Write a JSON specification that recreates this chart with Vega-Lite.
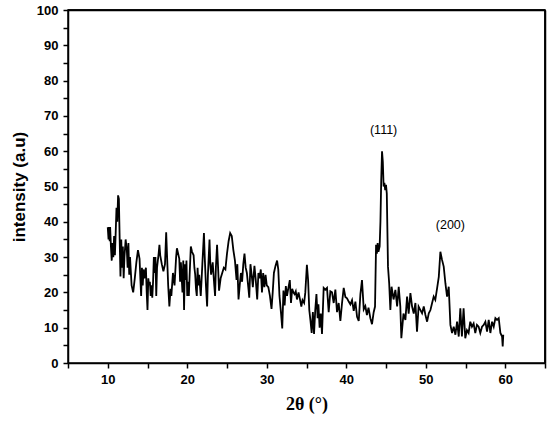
{
  "$schema": "https://vega.github.io/schema/vega-lite/v6.json",
  "width": 477,
  "height": 353,
  "autosize": {"type": "none"},
  "padding": {"left": 68, "top": 10, "right": 5, "bottom": 61},
  "background": "white",
  "config": {
    "view": {"stroke": "black", "strokeWidth": 1.5},
    "axis": {"domainColor": "black", "domainWidth": 1.5, "tickColor": "black", "tickWidth": 1.5, "grid": false,
      "labelFont": "Liberation Sans", "labelFontWeight": "bold", "labelFontSize": 13, "labelColor": "black",
      "labelOverlap": false, "titleColor": "black"}
  },
  "resolve": {"scale": {"x": "independent", "y": "independent"}, "axis": {"x": "independent", "y": "independent"}},
  "datasets": {
    "xrd": [
      {"theta":10.0,"intensity":38.5},{"theta":10.1,"intensity":35},{"theta":10.15,"intensity":38.5},{"theta":10.25,"intensity":34.5},
      {"theta":10.3,"intensity":38.5},{"theta":10.4,"intensity":33},{"theta":10.5,"intensity":29},{"theta":10.6,"intensity":34},
      {"theta":10.7,"intensity":30},{"theta":10.8,"intensity":36},{"theta":10.9,"intensity":30.5},{"theta":11.0,"intensity":37},
      {"theta":11.1,"intensity":44},{"theta":11.2,"intensity":40},{"theta":11.3,"intensity":47.5},{"theta":11.4,"intensity":46.5},
      {"theta":11.5,"intensity":35},{"theta":11.6,"intensity":24.5},{"theta":11.7,"intensity":35},{"theta":11.8,"intensity":27},
      {"theta":11.9,"intensity":33},{"theta":12.0,"intensity":24},{"theta":12.1,"intensity":30},{"theta":12.25,"intensity":35},
      {"theta":12.4,"intensity":32},{"theta":12.5,"intensity":27},{"theta":12.6,"intensity":34},{"theta":12.7,"intensity":25},
      {"theta":12.8,"intensity":30},{"theta":12.9,"intensity":26},{"theta":13.0,"intensity":22},{"theta":13.2,"intensity":20},
      {"theta":13.4,"intensity":24},{"theta":13.6,"intensity":28.5},{"theta":13.8,"intensity":32},{"theta":14.0,"intensity":29.5},
      {"theta":14.1,"intensity":24},{"theta":14.2,"intensity":19},{"theta":14.3,"intensity":27},{"theta":14.4,"intensity":22},
      {"theta":14.5,"intensity":26.5},{"theta":14.6,"intensity":24},{"theta":14.8,"intensity":27},{"theta":14.9,"intensity":20},
      {"theta":15.0,"intensity":15},{"theta":15.1,"intensity":24},{"theta":15.2,"intensity":22},{"theta":15.3,"intensity":23},
      {"theta":15.4,"intensity":19},{"theta":15.5,"intensity":22},{"theta":15.6,"intensity":18.5},{"theta":15.7,"intensity":23},
      {"theta":15.8,"intensity":30},{"theta":15.9,"intensity":25.5},{"theta":16.0,"intensity":30},{"theta":16.1,"intensity":19},
      {"theta":16.2,"intensity":27},{"theta":16.4,"intensity":31},{"theta":16.5,"intensity":33.5},{"theta":16.6,"intensity":30.5},
      {"theta":16.8,"intensity":28},{"theta":17.0,"intensity":26},{"theta":17.2,"intensity":28},{"theta":17.35,"intensity":37},
      {"theta":17.5,"intensity":28},{"theta":17.6,"intensity":22},{"theta":17.75,"intensity":16},{"theta":17.9,"intensity":21},
      {"theta":18.0,"intensity":19},{"theta":18.2,"intensity":25.5},{"theta":18.4,"intensity":22},{"theta":18.5,"intensity":26},
      {"theta":18.6,"intensity":30},{"theta":18.7,"intensity":32.5},{"theta":18.85,"intensity":31},{"theta":19.0,"intensity":29.5},
      {"theta":19.1,"intensity":23},{"theta":19.2,"intensity":28.5},{"theta":19.3,"intensity":24},{"theta":19.4,"intensity":20},
      {"theta":19.5,"intensity":29},{"theta":19.6,"intensity":15},{"theta":19.7,"intensity":28},{"theta":19.8,"intensity":23.5},
      {"theta":19.9,"intensity":29},{"theta":20.0,"intensity":19},{"theta":20.1,"intensity":23},{"theta":20.2,"intensity":19},
      {"theta":20.3,"intensity":25},{"theta":20.45,"intensity":33},{"theta":20.6,"intensity":31.5},{"theta":20.8,"intensity":30.5},
      {"theta":20.9,"intensity":27},{"theta":21.0,"intensity":25},{"theta":21.1,"intensity":21},{"theta":21.2,"intensity":19},
      {"theta":21.3,"intensity":27},{"theta":21.4,"intensity":22},{"theta":21.5,"intensity":25},{"theta":21.7,"intensity":19},
      {"theta":21.9,"intensity":28},{"theta":22.1,"intensity":36.8},{"theta":22.2,"intensity":30},{"theta":22.35,"intensity":22},
      {"theta":22.5,"intensity":16},{"theta":22.6,"intensity":25},{"theta":22.8,"intensity":35},{"theta":22.9,"intensity":28},
      {"theta":23.0,"intensity":25},{"theta":23.2,"intensity":28.5},{"theta":23.4,"intensity":22},{"theta":23.5,"intensity":19},
      {"theta":23.6,"intensity":27},{"theta":23.75,"intensity":33.5},{"theta":23.9,"intensity":26},{"theta":24.0,"intensity":20.5},
      {"theta":24.2,"intensity":24},{"theta":24.4,"intensity":25.5},{"theta":24.6,"intensity":27},{"theta":24.8,"intensity":26.5},
      {"theta":25.0,"intensity":31},{"theta":25.2,"intensity":34.5},{"theta":25.4,"intensity":36.8},{"theta":25.6,"intensity":36},
      {"theta":25.8,"intensity":32},{"theta":26.0,"intensity":29},{"theta":26.2,"intensity":23.5},{"theta":26.3,"intensity":28},
      {"theta":26.45,"intensity":18},{"theta":26.6,"intensity":22},{"theta":26.75,"intensity":25.5},{"theta":26.9,"intensity":23},
      {"theta":27.05,"intensity":28},{"theta":27.2,"intensity":31},{"theta":27.35,"intensity":27},{"theta":27.5,"intensity":25.5},
      {"theta":27.7,"intensity":21},{"theta":27.8,"intensity":18.5},{"theta":27.95,"intensity":28},{"theta":28.1,"intensity":25},
      {"theta":28.25,"intensity":21.5},{"theta":28.45,"intensity":27.5},{"theta":28.6,"intensity":24},{"theta":28.8,"intensity":18},
      {"theta":28.95,"intensity":25.5},{"theta":29.1,"intensity":24},{"theta":29.25,"intensity":26.5},{"theta":29.4,"intensity":20},
      {"theta":29.55,"intensity":25.5},{"theta":29.7,"intensity":21.5},{"theta":29.85,"intensity":25},{"theta":30.0,"intensity":22},
      {"theta":30.2,"intensity":21.5},{"theta":30.4,"intensity":19},{"theta":30.6,"intensity":15.3},{"theta":30.75,"intensity":20},
      {"theta":30.9,"intensity":25.5},{"theta":31.1,"intensity":27.5},{"theta":31.3,"intensity":29},{"theta":31.45,"intensity":26.5},
      {"theta":31.6,"intensity":19},{"theta":31.8,"intensity":14},{"theta":31.95,"intensity":9.8},{"theta":32.1,"intensity":20.5},
      {"theta":32.25,"intensity":16.3},{"theta":32.4,"intensity":21.8},{"theta":32.55,"intensity":19},{"theta":32.7,"intensity":21},
      {"theta":32.9,"intensity":23.5},{"theta":33.05,"intensity":17},{"theta":33.2,"intensity":21},{"theta":33.35,"intensity":20},
      {"theta":33.5,"intensity":19.5},{"theta":33.65,"intensity":20.3},{"theta":33.8,"intensity":18},{"theta":34.0,"intensity":20},
      {"theta":34.2,"intensity":17.8},{"theta":34.35,"intensity":16},{"theta":34.5,"intensity":17.8},{"theta":34.7,"intensity":17},
      {"theta":34.85,"intensity":20},{"theta":35.05,"intensity":27.8},{"theta":35.2,"intensity":23.5},{"theta":35.35,"intensity":15},
      {"theta":35.5,"intensity":12},{"theta":35.65,"intensity":8.5},{"theta":35.8,"intensity":14.4},{"theta":35.95,"intensity":8.2},
      {"theta":36.1,"intensity":15},{"theta":36.25,"intensity":19.5},{"theta":36.4,"intensity":12.7},{"theta":36.5,"intensity":16.6},
      {"theta":36.65,"intensity":10},{"theta":36.8,"intensity":14},{"theta":36.95,"intensity":8.2},{"theta":37.16,"intensity":21.3},
      {"theta":37.37,"intensity":20.8},{"theta":37.58,"intensity":21.3},{"theta":37.79,"intensity":14.4},{"theta":38.0,"intensity":20.3},
      {"theta":38.21,"intensity":20},{"theta":38.42,"intensity":17},{"theta":38.63,"intensity":20.8},{"theta":38.84,"intensity":14.4},
      {"theta":39.05,"intensity":17},{"theta":39.26,"intensity":11.9},{"theta":39.47,"intensity":17},{"theta":39.68,"intensity":21.3},
      {"theta":39.89,"intensity":18.7},{"theta":40.1,"intensity":18.3},{"theta":40.31,"intensity":17.4},{"theta":40.52,"intensity":16.6},
      {"theta":40.73,"intensity":17.8},{"theta":40.94,"intensity":14.8},{"theta":41.15,"intensity":17.4},{"theta":41.36,"intensity":13.1},
      {"theta":41.57,"intensity":11.9},{"theta":41.78,"intensity":19.5},{"theta":41.98,"intensity":23.5},{"theta":42.2,"intensity":15.2},
      {"theta":42.4,"intensity":16.1},{"theta":42.6,"intensity":13.6},{"theta":42.8,"intensity":15.7},{"theta":43.03,"intensity":12.7},
      {"theta":43.24,"intensity":11},{"theta":43.45,"intensity":14.4},{"theta":43.62,"intensity":16},{"theta":43.75,"intensity":33.5},
      {"theta":43.85,"intensity":31},{"theta":43.95,"intensity":34},{"theta":44.05,"intensity":31.5},{"theta":44.2,"intensity":33},
      {"theta":44.3,"intensity":40},{"theta":44.4,"intensity":52},{"theta":44.5,"intensity":60},{"theta":44.6,"intensity":57},
      {"theta":44.7,"intensity":50},{"theta":44.8,"intensity":51},{"theta":44.9,"intensity":49},{"theta":45.0,"intensity":50.5},
      {"theta":45.1,"intensity":48},{"theta":45.25,"intensity":27.3},{"theta":45.4,"intensity":22.6},{"theta":45.55,"intensity":15},
      {"theta":45.7,"intensity":21.6},{"theta":45.95,"intensity":18},{"theta":46.18,"intensity":20.7},{"theta":46.4,"intensity":16},
      {"theta":46.6,"intensity":21.6},{"theta":46.8,"intensity":16},{"theta":46.93,"intensity":7},{"theta":47.2,"intensity":14},
      {"theta":47.44,"intensity":12.2},{"theta":47.65,"intensity":18.8},{"theta":47.85,"intensity":14},{"theta":48.07,"intensity":19.8},
      {"theta":48.28,"intensity":16},{"theta":48.49,"intensity":14},{"theta":48.7,"intensity":17},{"theta":48.9,"intensity":8.9},
      {"theta":49.1,"intensity":16},{"theta":49.33,"intensity":15},{"theta":49.54,"intensity":14.1},{"theta":49.75,"intensity":16},
      {"theta":49.96,"intensity":13.6},{"theta":50.17,"intensity":11.7},{"theta":50.38,"intensity":14.1},{"theta":50.59,"intensity":15},
      {"theta":50.8,"intensity":17},{"theta":51.0,"intensity":18.8},{"theta":51.2,"intensity":17.9},{"theta":51.43,"intensity":21.2},
      {"theta":51.64,"intensity":24.4},{"theta":51.84,"intensity":31.5},{"theta":52.05,"intensity":29.2},{"theta":52.26,"intensity":27.3},
      {"theta":52.47,"intensity":22.6},{"theta":52.68,"intensity":18.8},{"theta":52.89,"intensity":21.6},{"theta":53.1,"intensity":10.8},
      {"theta":53.31,"intensity":8.5},{"theta":53.52,"intensity":10.3},{"theta":53.73,"intensity":8},{"theta":53.94,"intensity":11.7},
      {"theta":54.15,"intensity":7.5},{"theta":54.35,"intensity":15.5},{"theta":54.55,"intensity":7.5},{"theta":54.76,"intensity":15.5},
      {"theta":54.97,"intensity":7},{"theta":55.18,"intensity":9.3},{"theta":55.39,"intensity":8.5},{"theta":55.6,"intensity":11.7},
      {"theta":55.81,"intensity":10.3},{"theta":56.02,"intensity":11.2},{"theta":56.23,"intensity":8.5},{"theta":56.44,"intensity":10.8},
      {"theta":56.65,"intensity":10.3},{"theta":56.86,"intensity":8.5},{"theta":57.08,"intensity":10.3},{"theta":57.29,"intensity":10.8},
      {"theta":57.5,"intensity":11.7},{"theta":57.71,"intensity":8.9},{"theta":57.92,"intensity":12.2},{"theta":58.13,"intensity":8.5},
      {"theta":58.34,"intensity":11.7},{"theta":58.55,"intensity":10.3},{"theta":58.76,"intensity":12.7},{"theta":58.97,"intensity":12.2},
      {"theta":59.18,"intensity":12.7},{"theta":59.39,"intensity":8.5},{"theta":59.6,"intensity":7.5},{"theta":59.68,"intensity":4.7},
      {"theta":59.75,"intensity":8}
    ],
    "labels": [
      {"theta": 44.7, "intensity": 66, "label": "(111)"},
      {"theta": 53.1, "intensity": 39, "label": "(200)"}
    ]
  },
  "layer": [
    {
      "data": {"name": "xrd"},
      "mark": {"type": "line", "color": "black", "strokeWidth": 1.8},
      "encoding": {
        "x": {"field": "theta", "type": "quantitative",
          "scale": {"domain": [5, 65], "nice": false, "zero": false},
          "axis": {"values": [5,10,15,20,25,30,35,40,45,50,55,60,65],
            "labelExpr": "datum.value % 10 === 0 ? datum.label : ''",
            "labelOverlap": false, "labelFlush": false,
            "tickSize": 5, "labelPadding": 5,
            "title": "2θ (°)", "titleFont": "Liberation Serif", "titleFontSize": 18, "titleFontWeight": "bold", "titlePadding": 9}},
        "y": {"field": "intensity", "type": "quantitative",
          "scale": {"domain": [0, 100], "nice": false},
          "axis": {"values": [0,5,10,15,20,25,30,35,40,45,50,55,60,65,70,75,80,85,90,95,100],
            "labelExpr": "datum.value % 10 === 0 ? datum.label : ''",
            "labelOverlap": false, "labelFlush": false,
            "tickSize": 5,
            "labelPadding": 5,
            "title": "intensity (a.u)", "titleFont": "Liberation Sans", "titleFontSize": 17, "titleFontWeight": "bold", "titlePadding": 8}}
      }
    },
    {
      "data": {"name": "labels"},
      "mark": {"type": "text", "font": "Liberation Sans", "fontSize": 12.5, "color": "black", "align": "center", "baseline": "middle"},
      "encoding": {
        "x": {"field": "theta", "type": "quantitative",
          "scale": {"domain": [5, 65], "nice": false, "zero": false},
          "axis": {"orient": "top", "title": null, "labelExpr": "''", "tickSize": 0, "domainColor": "black", "domainWidth": 1.5}},
        "y": {"field": "intensity", "type": "quantitative",
          "scale": {"domain": [0, 100], "nice": false},
          "axis": {"orient": "right", "title": null, "labelExpr": "''", "tickSize": 0, "domainColor": "black", "domainWidth": 1.5}},
        "text": {"field": "label"}
      }
    },
    {
      "data": {"values": [{}]},
      "mark": {"type": "rule", "color": "black", "strokeWidth": 1.5, "clip": false},
      "encoding": {
        "x": {"datum": 5, "type": "quantitative", "scale": {"domain": [5, 65], "nice": false, "zero": false}, "axis": null},
        "x2": {"datum": 65},
        "y": {"datum": 100, "type": "quantitative", "scale": {"domain": [0, 100], "nice": false}, "axis": null}
      }
    },
    {
      "data": {"values": [{}]},
      "mark": {"type": "rule", "color": "black", "strokeWidth": 1.5, "clip": false},
      "encoding": {
        "x": {"datum": 65, "type": "quantitative", "scale": {"domain": [5, 65], "nice": false, "zero": false}, "axis": null},
        "y": {"datum": 0, "type": "quantitative", "scale": {"domain": [0, 100], "nice": false}, "axis": null},
        "y2": {"datum": 100}
      }
    }
  ]
}
